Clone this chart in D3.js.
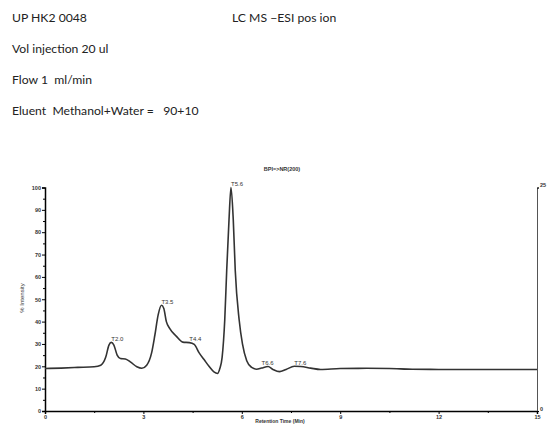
<!DOCTYPE html>
<html><head><meta charset="utf-8">
<script src="https://cdn.jsdelivr.net/npm/d3@7"></script>
<style>body{margin:0;background:#fff}svg{display:block}</style>
</head><body><svg id="c" width="547" height="425"></svg>
<script>
const headerLines = ["UP HK2 0048","Vol injection 20 ul","Flow 1  ml/min","Eluent  Methanol+Water =   90+10"];
const headerRight = "LC MS \u2212ESI pos ion";
const chartTitle = "BPI=>NR(200)";
const xLabel = "Retention Time (Min)";
const yLabel = "% Intensity";
const times = [0,0.5,1.0,1.5,1.7,1.85,1.95,2.02,2.1,2.2,2.3,2.45,2.6,2.8,2.95,3.1,3.25,3.35,3.45,3.55,3.62,3.7,3.8,4.0,4.2,4.4,4.55,4.7,4.85,5.0,5.15,5.26,5.33,5.40,5.48,5.54,5.61,5.67,5.74,5.80,5.92,6.02,6.15,6.3,6.45,6.6,6.8,6.95,7.15,7.35,7.6,7.8,8.1,8.4,9.0,9.8,10.5,11.2,12,15];
const intensity = [19.0,19.2,19.5,19.8,20.5,24,29.5,30.7,29.5,25,23.5,23.3,22,19.8,19.1,20.5,26,34,43,47.3,46,40,37,33.5,30.8,30.6,29.8,26,23,20,17.5,16.8,19,24,40.7,63,85.5,100,85.5,63,40.7,30,22.5,19.5,18.7,19.2,19.9,18.6,17.6,18.6,20.0,19.9,19.2,18.6,19.0,19.1,19.0,18.7,18.6,18.6];
const peakLabels = ["T2.0","T3.5","T4.4","T5.6","T6.6","T7.6"];
const peakTimes = [2.02,3.55,4.4,5.67,6.6,7.6];
const peakValues = [30.7,47.3,30.6,100,19.9,20.0];
const xTicks = [0,3,6,9,12,15];
const xMinor = [1.5,4.5,7.5,10.5,13.5];
const yTicks = [0,10,20,30,40,50,60,70,80,90,100];
const yMinor = [5,15,25,35,45,55,65,75,85,95];
const rightTicks = [0,25];

const svg = d3.select("#c");
const hf = "Lato, 'Open Sans', sans-serif";
const hy = [22,53,84,115];
svg.selectAll("text.h").data(headerLines).join("text").attr("class","h")
  .attr("x",12).attr("y",(d,i)=>hy[i]).attr("font-family",hf).attr("font-size",12.2).attr("fill","#222")
  .attr("xml:space","preserve").style("white-space","pre").text(d=>d);
svg.append("text").attr("x",232).attr("y",hy[0]).attr("font-family",hf).attr("font-size",12.2).attr("fill","#222").text(headerRight);

const x = d3.scaleLinear().domain([0,15]).range([45,537]);
const y = d3.scaleLinear().domain([0,100]).range([411,187.5]);
const sf = "Arial, 'Liberation Sans', sans-serif";

// left axis
const ya = svg.append("g").attr("transform","translate(45,0)")
  .call(d3.axisLeft(y).tickValues(yTicks).tickSize(3).tickPadding(1));
ya.select(".domain").attr("stroke","#000").attr("stroke-width",1.5);
ya.selectAll("text").attr("font-family",sf).attr("font-size",5.5).attr("font-weight","bold").attr("fill","#333");
svg.append("g").attr("transform","translate(45,0)").call(d3.axisLeft(y).tickValues(yMinor).tickSize(2).tickFormat(""))
  .select(".domain").remove();
// bottom axis
const xa = svg.append("g").attr("transform","translate(0,411)")
  .call(d3.axisBottom(x).tickValues(xTicks).tickSize(3).tickPadding(1));
xa.select(".domain").attr("stroke","#000").attr("stroke-width",1.5);
xa.selectAll("text").attr("font-family",sf).attr("font-size",5.5).attr("font-weight","bold").attr("fill","#333");
svg.append("g").attr("transform","translate(0,411)").call(d3.axisBottom(x).tickValues(xMinor).tickSize(2).tickFormat(""))
  .select(".domain").remove();
// right axis
const yr = d3.scaleLinear().domain([0,25]).range([411,187.5]);
const ra = svg.append("g").attr("transform","translate(537,0)")
  .call(d3.axisRight(yr).tickValues(rightTicks).tickSize(2).tickPadding(1));
ra.select(".domain").attr("stroke","#555").attr("stroke-width",1);
ra.selectAll("text").attr("font-family",sf).attr("font-size",5.5).attr("font-weight","bold").attr("fill","#333").attr("dy","-0.1em");

// curve
const pts = times.map((t,i)=>[t,intensity[i]]);
svg.append("path").datum(pts)
  .attr("d",d3.line().x(d=>x(d[0])).y(d=>y(d[1])).curve(d3.curveMonotoneX))
  .attr("fill","none").attr("stroke","#333").attr("stroke-width",1.6);

// peak labels
svg.selectAll("text.pk").data(peakLabels).join("text").attr("class","pk")
  .attr("x",(d,i)=>x(peakTimes[i])).attr("y",(d,i)=>y(peakValues[i])-1.5)
  .attr("font-family",sf).attr("font-size",6).attr("fill","#333").text(d=>d);

// titles
svg.append("text").attr("x",282).attr("y",171).attr("text-anchor","middle").attr("font-family",sf)
  .attr("font-size",5.5).attr("font-weight","bold").attr("fill","#333").text(chartTitle);
svg.append("text").attr("x",280).attr("y",423).attr("text-anchor","middle").attr("font-family",sf)
  .attr("font-size",5).attr("font-weight","bold").attr("fill","#333").text(xLabel);
svg.append("text").attr("transform","translate(24,298) rotate(-90)").attr("text-anchor","middle").attr("font-family",sf)
  .attr("font-size",6).attr("fill","#333").text(yLabel);
</script></body></html>
